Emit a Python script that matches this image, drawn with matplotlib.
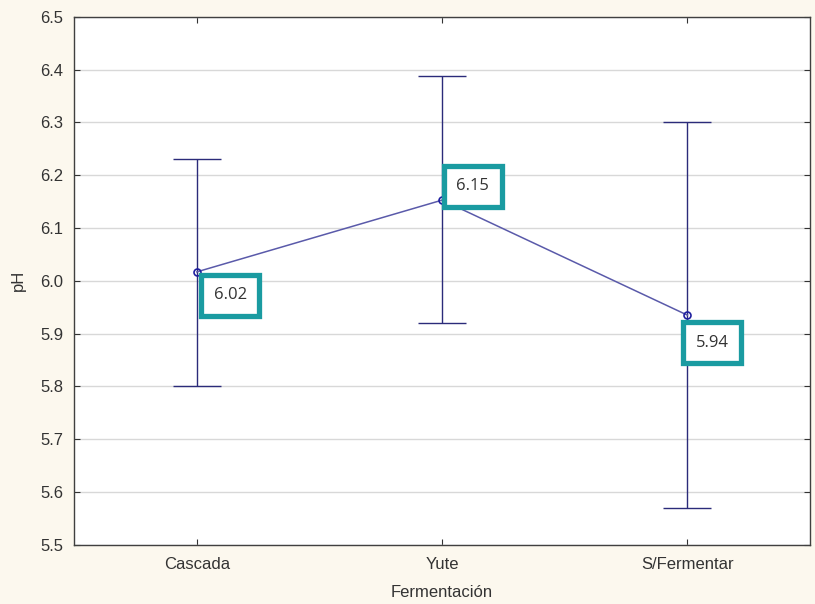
import numpy as np
import matplotlib.pyplot as plt

groups = ['Cascada', 'Yute', 'S/Fermentar']
means = [6.017, 6.153, 5.935]
upper = [6.23, 6.388, 6.30]
lower = [5.80, 5.92, 5.57]
labels = ['6.02', '6.15', '5.94']
offsets = [(24, -17), (22, 10), (18, -20)]

plt.rcParams['font.family'] = ['Liberation Sans', 'DejaVu Sans']

x = np.arange(len(groups))
m = np.array(means)
err = [m - np.array(lower), np.array(upper) - m]

fig = plt.figure(figsize=(8.15, 6.04), dpi=100, facecolor='#fcf8ee')
ax = fig.add_axes([0.091, 0.098, 0.903, 0.874])
ax.set_facecolor('white')

ax.errorbar(x, m, yerr=err, fmt='none', ecolor='#2b2b7a', elinewidth=1.0,
            capsize=17, capthick=1.0, zorder=3)
ax.plot(x, m, '-', color='#5a5aaa', lw=1.1, zorder=4)
ax.plot(x, m, 'o', mfc='none', mec='#2020a0', ms=5, mew=1.2, zorder=5)

for i, (lab, off) in enumerate(zip(labels, offsets)):
    ax.annotate(lab, xy=(x[i], m[i]), xytext=off, textcoords='offset points',
                ha='center', va='center', fontsize=12, color='#333333',
                family=['Open Sans', 'DejaVu Sans'],
                bbox=dict(boxstyle='square,pad=0.75', fc='white', ec='#1a9ba1', lw=3.8),
                zorder=6)

ax.set_xlim(-0.5, 2.5)
ax.set_ylim(5.5, 6.5)
ax.set_xticks(x)
ax.set_xticklabels(groups)
ax.set_yticks(np.arange(5.5, 6.51, 0.1))
ax.set_yticklabels([f'{v:.1f}' for v in np.arange(5.5, 6.51, 0.1)])
ax.yaxis.grid(True, color='#d8d8d8', lw=1.0)
ax.set_axisbelow(True)
ax.tick_params(direction='in', top=True, right=True, length=4, labelsize=12,
               colors='#333333', pad=8)
ax.tick_params(axis='x', pad=9)
for s in ax.spines.values():
    s.set_color('#404040')
    s.set_linewidth(1.0)

ax.set_xlabel('Fermentación', fontsize=12, color='#333333', labelpad=9)
ax.set_ylabel('pH', fontsize=12, color='#333333', labelpad=10)

fig.savefig('out.png', dpi=100, facecolor=fig.get_facecolor())
